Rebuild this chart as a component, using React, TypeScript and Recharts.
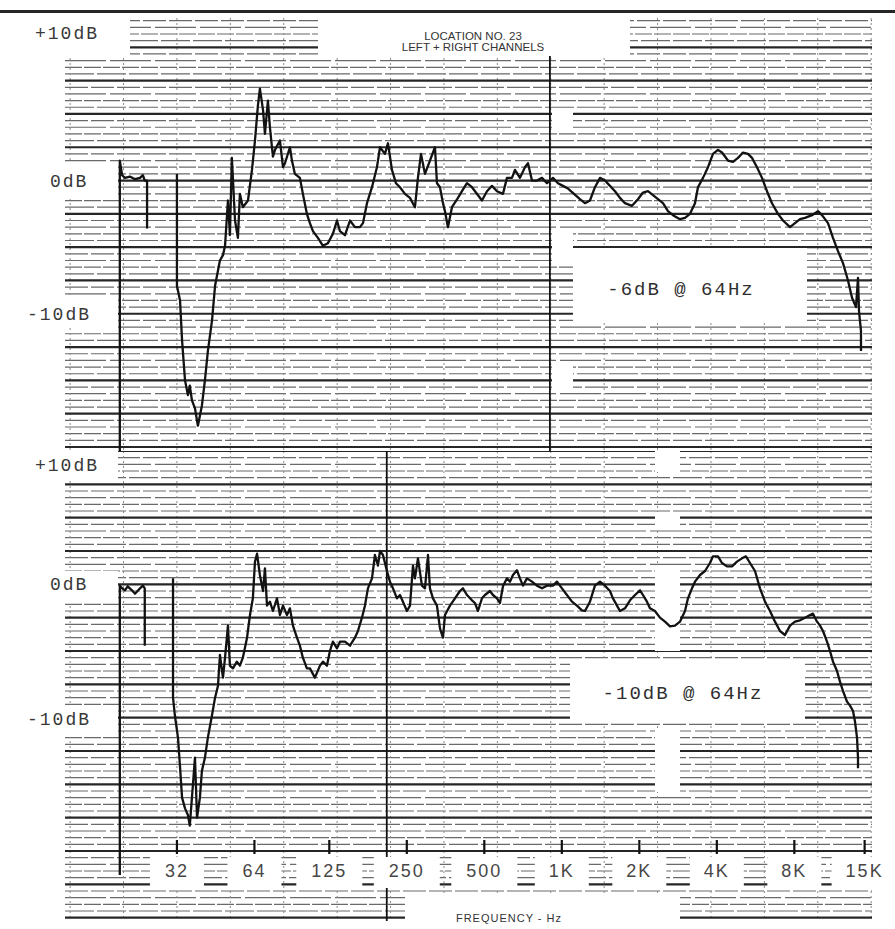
import type { ReactElement } from "react";
import {
  CartesianGrid,
  Line,
  LineChart,
  ReferenceArea,
  ReferenceLine,
  XAxis,
  YAxis,
} from "recharts";

// [frequency Hz, level dB]; null breaks the pen line
const topTrace: [number, number | null][] = [
  [19.2, -20.3], [19.2, 1.5], [19.6, 0.4], [20.1, 0.2], [21.0, 0.3], [22.0, 0.1],
  [23.0, 0.2], [23.6, 0.4], [24.0, 0.0], [24.5, 0.0], [24.5, -3.6], [28, null],
  [32, 0.5], [32, -7.9], [32.9, -9.0], [33.5, -12.0], [34.4, -15.0], [35.3, -16.1],
  [35.9, -15.4], [36.6, -16.5], [37.6, -17.1], [38.6, -18.4], [40.0, -16.9], [41.1, -15.0],
  [42.2, -12.8], [43.8, -10.5], [45.0, -7.9], [47.0, -6.0], [48.3, -5.6], [49.2, -4.9],
  [50.5, -1.5], [51.4, -4.1], [52.3, 1.7], [53.8, -3.0], [55.2, -4.3], [56.2, -1.0],
  [57.7, -2.0], [60.4, -1.5], [62.6, 0.8], [64.3, 3.0], [66.0, 5.6], [67.2, 6.9],
  [69.1, 5.3], [70.3, 3.5], [72.2, 6.0], [73.5, 4.0], [75.5, 1.8], [76.9, 2.3],
  [80.4, 3.0], [82.6, 1.0], [84.1, 1.3], [87.9, 2.5], [89.5, 1.5], [91.9, 0.5],
  [96.1, 0.2], [98.7, -1.0], [102.3, -2.5], [105.1, -3.2], [108.0, -3.8], [112.9, -4.3],
  [118.1, -4.9], [123.5, -4.7], [129.1, -4.0], [133.9, -3.0], [137.5, -3.8], [143.8, -4.1],
  [150.4, -3.0], [157.2, -3.5], [164.4, -3.5], [168.9, -3.2], [175.1, -1.7], [183.1, -0.5],
  [191.4, 1.0], [196.7, 2.5], [205.6, 2.0], [211.2, 2.8], [218.9, 0.8], [226.9, -0.2],
  [235.2, -0.5], [245.9, -1.0], [257.2, -1.3], [268.9, -2.0], [276.2, 0.2], [283.8, 2.0],
  [294.1, 0.5], [307.5, 1.5], [321.6, 2.5], [327.4, -0.2], [336.3, -0.5], [345.5, -1.7],
  [351.7, -2.3], [361.2, -3.5], [374.4, -2.0], [395, -1.3], [409.4, -0.8], [428.1, -0.2],
  [447.7, -0.5], [464, -0.9], [489.6, -1.5], [512, -0.8], [535.4, -0.4], [560, -0.8],
  [590.7, -1.0], [612.2, 0.2], [640.3, 0.2], [657.6, 0.8], [687.7, 0.2], [719.2, 1.0],
  [738.9, 1.3], [765.8, 0], [800.8, 0], [837.4, 0.2], [875.8, -0.2], [923.8, 0.2],
  [966.1, -0.2], [1010, -0.4], [1057, -0.6], [1115, -1.0], [1176, -1.4], [1230, -1.7],
  [1286, -1.5], [1345, -0.5], [1407, 0.2], [1471, 0], [1538, -0.4], [1609, -0.8],
  [1682, -1.3], [1759, -1.7], [1873, -1.9], [1976, -1.4], [2066, -0.9], [2161, -0.8],
  [2260, -1.1], [2363, -1.4], [2471, -1.7], [2584, -2.3], [2702, -2.6], [2877, -2.9],
  [3009, -2.8], [3147, -2.5], [3290, -1.7], [3379, -0.5], [3534, 0.2], [3696, 1.0],
  [3865, 2.0], [4042, 2.3], [4189, 2.1], [4419, 1.5], [4622, 1.4], [4833, 1.7],
  [5054, 2.1], [5286, 2.0], [5478, 1.7], [5728, 1.0], [5990, 0.2], [6264, -0.8],
  [6551, -1.7], [6912, -2.5], [7228, -3.0], [7695, -3.5], [8047, -3.2], [8416, -2.9],
  [8801, -2.8], [9369, -2.6], [9884, -2.3], [10244, -2.6], [10809, -3.2], [11303, -4.3],
  [11820, -5.3], [12362, -6.2], [12928, -7.5], [13400, -8.8], [13885, -9.5], [14137, -7.3],
  [14263, -9.8], [14520, -11.3], [14520, -12.8],
];

const bottomTrace: [number, number | null][] = [
  [19.2, -21.8], [19.2, -0.1], [19.6, -0.3], [20.1, -0.45], [20.6, -0.15], [21.4, -0.45],
  [22.0, -0.7], [23.0, -0.3], [23.6, -0.1], [24.0, -0.3], [24.0, -4.6], [27, null],
  [30.9, 0.45], [30.9, -8.5], [31.4, -9.8], [32.3, -11.5], [32.9, -13.7], [33.5, -16.0],
  [34.4, -16.8], [35.3, -17.3], [35.9, -18.1], [36.6, -16.0], [37.6, -13.0], [38.3, -17.5],
  [39.3, -16.0], [40.0, -14.0], [41.1, -13.0], [42.2, -11.5], [43.8, -9.8], [45.0, -8.5],
  [46.2, -7.6], [47.0, -5.3], [48.3, -7.0], [49.2, -5.5], [50.5, -3.1], [51.4, -6.1],
  [52.8, -6.3], [54.7, -5.8], [56.2, -6.1], [57.7, -5.5], [59.9, -4.0], [61.5, -2.3],
  [63.1, -1.05], [64.3, 1.7], [65.5, 2.3], [67.2, 0.7], [69.1, -0.5], [70.3, 1.2],
  [71.6, -1.6], [73.5, -1.3], [75.5, -2.0], [78.3, -1.05], [80.4, -2.3], [82.6, -1.6],
  [85.6, -2.3], [87.9, -1.8], [90.3, -3.1], [93.6, -4.0], [96.1, -4.6], [98.7, -5.5],
  [102.3, -6.3], [105.1, -6.3], [109.9, -7.0], [115.0, -6.1], [118.1, -5.8], [122.4, -6.1],
  [125.7, -5.0], [129.1, -4.3], [133.9, -4.8], [137.5, -4.3], [143.8, -4.3], [150.4, -4.6],
  [157.2, -4.0], [161.5, -3.5], [167.4, -2.5], [171.9, -1.6], [176.6, -0.3], [183.1, 0.45],
  [188.0, 2.2], [193.2, 1.4], [196.7, 2.5], [202.0, 2.2], [209.3, 1.0], [215.0, 0.2],
  [220.9, -0.3], [228.9, -1.05], [235.2, -0.8], [241.5, -1.3], [250.3, -2.0], [257.2, -1.6],
  [264.2, 1.4], [268.9, 0.45], [276.2, 1.95], [286.3, -0.1], [294.1, -0.3], [302.1, 2.2],
  [307.5, -0.3], [315.9, -1.05], [327.4, -1.6], [336.3, -3.3], [345.5, -4.0], [351.7, -2.3],
  [367.8, -1.6], [384.6, -1.05], [402.1, -0.5], [413.0, -0.3], [428.1, -0.8], [447.7, -1.2],
  [459.9, -1.4], [472.4, -2.0], [489.6, -1.05], [502.9, -0.8], [525.9, -0.5], [540.2, -0.8],
  [560, -1.05], [575.1, -1.4], [590.7, -0.15], [612.2, 0.45], [628.9, 0.2], [646.0, 0.7],
  [669.5, 1.05], [687.7, 0.45], [706.6, -0.1], [732.2, 0.45], [765.8, 0.2], [800.8, -0.1],
  [837.4, -0.3], [875.8, -0.1], [923.8, -0.1], [957.7, 0.2], [1001, -0.3], [1047, -0.8],
  [1095, -1.3], [1145, -1.6], [1197, -1.95], [1230, -2.0], [1286, -1.3], [1345, -0.1],
  [1407, 0.2], [1471, -0.1], [1538, -0.5], [1580, -1.05], [1638, -1.6], [1682, -2.0],
  [1759, -1.8], [1840, -1.2], [1924, -0.8], [2012, -0.45], [2066, -0.8], [2141, -1.3],
  [2200, -1.8], [2300, -2.0], [2405, -2.5], [2516, -2.8], [2631, -3.15], [2751, -3.1],
  [2877, -2.8], [3009, -2.0], [3090, -1.05], [3203, -0.3], [3290, 0.2], [3441, 0.7],
  [3598, 1.0], [3762, 1.6], [3865, 2.1], [4042, 2.1], [4189, 1.6], [4381, 1.35],
  [4580, 1.35], [4790, 1.7], [5009, 1.95], [5191, 2.1], [5381, 1.6], [5627, 1.0],
  [5884, -0.3], [6154, -1.3], [6435, -2.0], [6729, -2.8], [7037, -3.5], [7358, -3.8],
  [7695, -3.1], [8047, -2.8], [8416, -2.7], [8801, -2.5], [9203, -2.3], [9453, -2.2],
  [9798, -2.8], [10064, -3.1], [10337, -3.5], [10715, -4.3], [11005, -5.0], [11303, -5.8],
  [11717, -6.5], [12034, -7.3], [12362, -8.0], [12813, -8.8], [13162, -9.1], [13520, -9.5],
  [13764, -10.3], [14012, -11.5], [14137, -13.0], [14137, -13.8],
];

const tickHz = [32, 64, 125, 250, 500, 1000, 2000, 4000, 8000, 15000];
const tickText = ["32", "64", "125", "250", "500", "1K", "2K", "4K", "8K", "15K"];

const dbLabels = ["+10dB", "0dB", "-10dB"];
const notes = ["-6dB @ 64Hz", "-10dB @ 64Hz"];
const titleLines = ["LOCATION NO. 23", "LEFT + RIGHT CHANNELS"];
const xTitle = "FREQUENCY - Hz";

// dark event marks on the paper (Hz): top strip, bottom strip
const markerHz = [899, 209];

const X_DOMAIN: [number, number] = [11.76, 16022];
const TOP_DOMAIN: [number, number] = [-20.3, 12.2];
const BOTTOM_DOMAIN: [number, number] = [-25.25, 10];

const MONO = "'Liberation Mono', 'DejaVu Sans Mono', monospace";
const SANS = "'Liberation Sans Narrow', 'Liberation Sans', Arial, sans-serif";

const CHART_MARGIN = { top: 0, right: 23, bottom: 0, left: 0 };

// dash patterns for the four minor rows inside each 2.5 dB band, so the breaks don't line up
const minorDashes = ["29 3", "17 2", "41 4", "23 3"];

function paperRows([min, max]: [number, number], step: number) {
  const rows: number[] = [];
  for (let v = Math.ceil(min / step) * step; v <= max + 1e-9; v += step) {
    rows.push(Number(v.toFixed(2)));
  }
  return rows;
}

function minorRows(domain: [number, number], slot: number) {
  return paperRows(domain, 0.5).filter((v) => {
    const k = Math.round(v / 0.5);
    return ((k % 5) + 5) % 5 === slot;
  });
}

// chart paper verticals, evenly spaced in time (~0.69 octave apart)
const paperCols = Array.from({ length: 16 }, (_, k) => 32 * 2 ** ((k - 2) * 0.689));

function FreqTick(props: any): ReactElement {
  const { x, y, payload } = props;
  const i = tickHz.indexOf(payload.value);
  const label = tickText[i] ?? String(payload.value);
  const w = label.length * 12 + 30;
  return (
    <g>
      <line x1={x} x2={x} y1={y - 81} y2={y - 67} stroke="#111" strokeWidth={2.2} />
      <rect x={x - w / 2} y={y - 64} width={w} height={31} fill="#fff" />
      <text
        x={x}
        y={y - 49}
        textAnchor="middle"
        dominantBaseline="middle"
        fontFamily={SANS}
        fontSize={18}
        letterSpacing={2}
        fill="#474747"
      >
        {label}
      </text>
    </g>
  );
}

function Paper({ domain }: { domain: [number, number] }) {
  return (
    <>
      {minorDashes.map((dash, slot) => (
        <CartesianGrid
          key={slot}
          horizontalValues={minorRows(domain, slot + 1)}
          vertical={false}
          stroke="#6a6a6a"
          strokeWidth={1.2}
          strokeDasharray={dash}
        />
      ))}
      <CartesianGrid
        verticalValues={paperCols}
        horizontal={false}
        stroke="#8a8a8a"
        strokeWidth={1}
        strokeDasharray="2 3"
      />
      <CartesianGrid
        horizontalValues={paperRows(domain, 2.5)}
        vertical={false}
        stroke="#262626"
        strokeWidth={2.2}
      />
    </>
  );
}

type Cut = [number, number, number, number];

// white gaps in the pasted-up paper (left, top, width, height)
const cutouts: Cut[] = [
  [65, 18, 65, 38],
  [65, 163, 53, 36],
  [65, 298, 53, 30],
  [318, 18, 312, 38],
  [573, 248, 234, 73],
  [552, 108, 21, 24],
  [552, 233, 21, 29],
  [552, 363, 21, 25],
  [65, 451, 53, 29],
  [65, 571, 53, 32],
  [65, 705, 53, 32],
  [570, 660, 235, 63],
  [655, 451, 25, 21],
  [655, 512, 25, 16],
  [655, 730, 25, 62],
  [405, 893, 275, 36],
];

function Text({
  left,
  top,
  children,
  style,
}: {
  left: number;
  top: number;
  children: string;
  style?: React.CSSProperties;
}) {
  return (
    <div
      style={{
        position: "absolute",
        left,
        top,
        transform: "translateY(-50%)",
        whiteSpace: "pre",
        lineHeight: 1,
        ...style,
      }}
    >
      {children}
    </div>
  );
}

const dbStyle: React.CSSProperties = {
  fontFamily: MONO,
  fontSize: 18,
  letterSpacing: 2,
  color: "#383838",
};

const noteStyle: React.CSSProperties = {
  fontFamily: MONO,
  fontSize: 19,
  letterSpacing: 2,
  color: "#2f2f2f",
  transform: "translate(-50%, -50%)",
};

export default function App() {
  const topData = topTrace.map(([hz, db]) => ({ hz, db }));
  const bottomData = bottomTrace.map(([hz, db]) => ({ hz, db }));

  return (
    <div
      style={{
        position: "absolute",
        left: 0,
        top: 0,
        width: 895,
        height: 929,
        background: "#fff",
        overflow: "hidden",
      }}
    >
      <div style={{ position: "absolute", left: 0, top: 10, width: 895, height: 3, background: "#262626" }} />

      <div style={{ position: "absolute", left: 65, top: 18 }}>
        <LineChart width={830} height={433} data={topData} margin={CHART_MARGIN}>
          <Paper domain={TOP_DOMAIN} />
          <XAxis dataKey="hz" type="number" scale="log" domain={X_DOMAIN} allowDataOverflow interval={0} hide />
          <YAxis type="number" domain={TOP_DOMAIN} allowDataOverflow interval={0} hide />
          <ReferenceLine x={markerHz[0]} stroke="#111" strokeWidth={1.8} />
          <Line
            dataKey="db"
            type="linear"
            stroke="#121212"
            strokeWidth={2.3}
            strokeLinejoin="round"
            dot={false}
            connectNulls={false}
            isAnimationActive={false}
          />
        </LineChart>
      </div>

      <div style={{ position: "absolute", left: 65, top: 451 }}>
        <LineChart width={830} height={471} data={bottomData} margin={CHART_MARGIN}>
          <Paper domain={BOTTOM_DOMAIN} />
          <ReferenceArea x1={2300} x2={2877} y1={-5.0} y2={1.4} fill="#fff" fillOpacity={1} stroke="none" />
          <XAxis
            dataKey="hz"
            type="number"
            scale="log"
            domain={X_DOMAIN}
            allowDataOverflow
            ticks={tickHz}
            interval={0}
            height={1}
            axisLine={false}
            tickLine={false}
            tickSize={0}
            tickMargin={0}
            tick={<FreqTick />}
          />
          <YAxis type="number" domain={BOTTOM_DOMAIN} allowDataOverflow interval={0} hide />
          <ReferenceLine x={markerHz[1]} stroke="#111" strokeWidth={1.8} />
          <Line
            dataKey="db"
            type="linear"
            stroke="#121212"
            strokeWidth={2.3}
            strokeLinejoin="round"
            dot={false}
            connectNulls={false}
            isAnimationActive={false}
          />
        </LineChart>
      </div>

      {cutouts.map(([l, t, w, h], i) => (
        <div key={i} style={{ position: "absolute", left: l, top: t, width: w, height: h, background: "#fff" }} />
      ))}

      <Text left={35} top={34} style={dbStyle}>{dbLabels[0]}</Text>
      <Text left={50} top={182} style={dbStyle}>{dbLabels[1]}</Text>
      <Text left={27} top={315} style={dbStyle}>{dbLabels[2]}</Text>
      <Text left={35} top={466} style={dbStyle}>{dbLabels[0]}</Text>
      <Text left={50} top={585} style={dbStyle}>{dbLabels[1]}</Text>
      <Text left={27} top={720} style={dbStyle}>{dbLabels[2]}</Text>

      <div
        style={{
          position: "absolute",
          left: 373,
          top: 31,
          width: 200,
          textAlign: "center",
          fontFamily: SANS,
          fontSize: 11.5,
          lineHeight: "11px",
          color: "#333",
        }}
      >
        <div>{titleLines[0]}</div>
        <div>{titleLines[1]}</div>
      </div>

      <Text left={681} top={290} style={noteStyle}>{notes[0]}</Text>
      <Text left={683} top={694} style={noteStyle}>{notes[1]}</Text>

      <Text
        left={509}
        top={918}
        style={{
          fontFamily: SANS,
          fontSize: 11,
          letterSpacing: 1,
          color: "#333",
          transform: "translate(-50%, -50%)",
        }}
      >
        {xTitle}
      </Text>
    </div>
  );
}
